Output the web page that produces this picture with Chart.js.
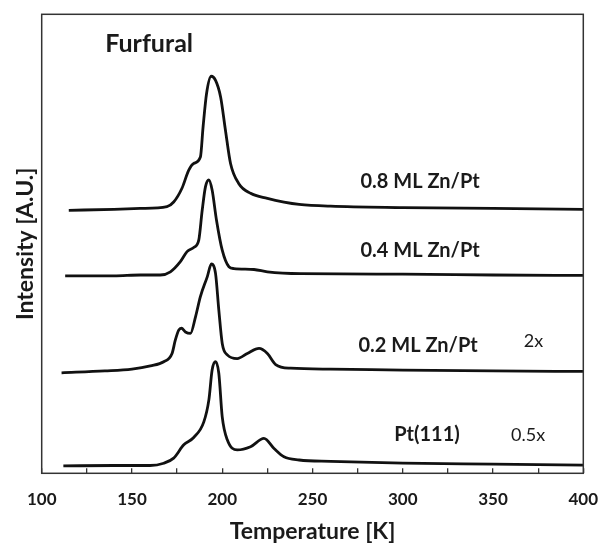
<!DOCTYPE html>
<html lang="en">
<head>
  <meta charset="UTF-8" />
  <title>Furfural TPD</title>
  <script src="https://cdn.jsdelivr.net/npm/chart.js"></script>
  <style>
    body {
      margin: 0;
      background: #fff;
    }
    canvas {
      display: block;
    }
  </style>
</head>
<body>
  <canvas id="tpdChart" width="600" height="545"></canvas>

  <script>
    // temperature [K] and stacked intensity [a.u.]
    const ptTemps = [112, 140, 160, 167.6, 173.1, 178.7, 184.2, 189.8, 192.6, 194.4, 196.3, 198.1, 200, 202.8, 208.3, 215.7, 223.1, 228.7, 234.2, 242.6, 260, 300, 350, 400];
    const ptVals  = [1.6, 1.7, 1.7, 2.2, 3.3, 6.2, 7.8, 11.2, 16.0, 22.5, 24.3, 21.8, 12.3, 7.3, 5.1, 5.8, 7.6, 5.4, 3.6, 2.9, 2.6, 2.2, 2.0, 1.8];

    const zn02Temps = [111, 135, 150, 160.2, 167.6, 172.2, 174, 175.9, 177.4, 179.6, 182.4, 185.2, 187.9, 191.7, 194, 196.3, 198.1, 200, 202.8, 208.3, 213.9, 220.4, 225, 229.6, 237.9, 260, 300, 350, 400];
    const zn02Vals  = [21.9, 22.3, 22.7, 23.4, 24.3, 26.1, 29.0, 31.2, 31.6, 30.8, 30.5, 34.1, 38.5, 42.8, 45.6, 43.5, 35.6, 28.3, 25.8, 25.0, 26.1, 27.2, 26.1, 23.7, 22.9, 22.7, 22.5, 22.3, 22.2];

    const zn04Temps = [113, 140, 154.6, 165.7, 171.3, 176.8, 180.5, 184.2, 187, 188.9, 190.7, 192.6, 194.4, 196.8, 200, 203.7, 206.5, 217.6, 225, 243.5, 300, 350, 400];
    const zn04Vals  = [43.0, 43.0, 43.2, 43.2, 43.9, 46.1, 48.3, 49.2, 50.8, 57.3, 62.4, 63.9, 61.7, 55.2, 48.6, 45.0, 44.6, 44.4, 43.9, 43.5, 43.4, 43.2, 43.1];

    const zn08Temps = [115, 140, 154.6, 169.4, 173.1, 177.7, 181.4, 184.2, 187.9, 189.4, 191.3, 193.9, 196.3, 199.1, 201.8, 204.6, 209.2, 215.7, 225, 234.2, 242.6, 260, 300, 350, 400];
    const zn08Vals  = [57.3, 57.5, 57.7, 58.1, 59.1, 62.1, 66.0, 67.5, 68.9, 75.5, 82.7, 86.5, 85.6, 82.0, 74.7, 67.5, 63.1, 61.0, 59.9, 59.1, 58.6, 58.2, 57.9, 57.7, 57.5];

    const xMin = 100;
    const xMax = 400;
    const xStep = 25;
    const xLabelStep = 50;

    function toPoints(temps, vals) {
      return temps.map((t, i) => ({ x: t, y: vals[i] }));
    }

    const lineStyle = {
      borderColor: "#111",
      borderWidth: 2.8,
      pointRadius: 0,
      fill: false,
      cubicInterpolationMode: "monotone",
    };

    // text placed in data coordinates
    const notes = [
      { text: "Furfural",     x: 159.5, y: 91.7,  font: "bold 25px Lato" },
      { text: "0.8 ML Zn/Pt", x: 309.6, y: 62.05, font: "bold 20px Lato" },
      { text: "0.4 ML Zn/Pt", x: 309.6, y: 47.16, font: "bold 20px Lato" },
      { text: "0.2 ML Zn/Pt", x: 308.5, y: 26.47, font: "bold 20px Lato" },
      { text: "2x",           x: 372.4, y: 27.56, font: "18px Lato" },
      { text: "Pt(111)",      x: 313.4, y: 7.03,  font: "bold 20px Lato" },
      { text: "0.5x",         x: 369.4, y: 7.03,  font: "18px Lato" },
    ];

    const notesPlugin = {
      id: "notes",
      afterDatasetsDraw(chart) {
        const { ctx, scales } = chart;
        ctx.save();
        ctx.fillStyle = "#1a1a1a";
        ctx.textAlign = "center";
        ctx.textBaseline = "alphabetic";
        notes.forEach(n => {
          ctx.font = n.font;
          ctx.fillText(n.text, scales.x.getPixelForValue(n.x), scales.y.getPixelForValue(n.y));
        });
        ctx.restore();
      },
    };

    const framePlugin = {
      id: "frame",
      afterDraw(chart) {
        const { ctx, chartArea: a } = chart;
        ctx.save();
        ctx.strokeStyle = "#333";
        ctx.lineWidth = 1.5;
        ctx.strokeRect(a.left, a.top, a.right - a.left, a.bottom - a.top);
        ctx.restore();
      },
    };

    new Chart(document.getElementById("tpdChart"), {
      type: "line",
      data: {
        datasets: [
          { label: "0.8 ML Zn/Pt", data: toPoints(zn08Temps, zn08Vals), ...lineStyle },
          { label: "0.4 ML Zn/Pt", data: toPoints(zn04Temps, zn04Vals), ...lineStyle },
          { label: "0.2 ML Zn/Pt", data: toPoints(zn02Temps, zn02Vals), ...lineStyle },
          { label: "Pt(111)",      data: toPoints(ptTemps, ptVals),     ...lineStyle },
        ],
      },
      options: {
        responsive: false,
        animation: false,
        layout: {
          padding: { left: 8, right: 16.7, top: 14.3, bottom: 0 },
        },
        plugins: {
          legend: { display: false },
          tooltip: { enabled: false },
        },
        scales: {
          x: {
            type: "linear",
            min: xMin,
            max: xMax,
            afterFit: s => {
              s.height = 545 - 473.3;
              s.paddingLeft = 0;
              s.paddingRight = 0;
            },
            afterBuildTicks: s => {
              s.ticks = [];
              for (let v = xMin; v <= xMax; v += xStep) s.ticks.push({ value: v });
            },
            ticks: {
              padding: 21.5,
              color: "#1a1a1a",
              font: { family: "Lato", size: 17, weight: "bold" },
              callback: v => (v % xLabelStep === 0 ? String(v) : ""),
            },
            grid: {
              drawOnChartArea: false,
              drawTicks: true,
              tickLength: -5,
              color: "#333",
              lineWidth: 1.3,
            },
            border: { display: false },
            title: {
              display: true,
              text: "Temperature [K]",
              color: "#1a1a1a",
              padding: { top: 0, bottom: 0 },
              font: { family: "Lato", size: 23, weight: "bold" },
            },
          },
          y: {
            min: 0,
            max: 100,
            afterFit: s => {
              s.width = 41.7 - 8;
              s.paddingTop = 0;
              s.paddingBottom = 0;
            },
            ticks: { display: false },
            grid: { display: false },
            border: { display: false },
            title: {
              display: true,
              text: "Intensity [A.U.]",
              color: "#1a1a1a",
              padding: { top: 4, bottom: 0 },
              font: { family: "Lato", size: 23, weight: "bold" },
            },
          },
        },
      },
      plugins: [notesPlugin, framePlugin],
    });
  </script>
</body>
</html>
